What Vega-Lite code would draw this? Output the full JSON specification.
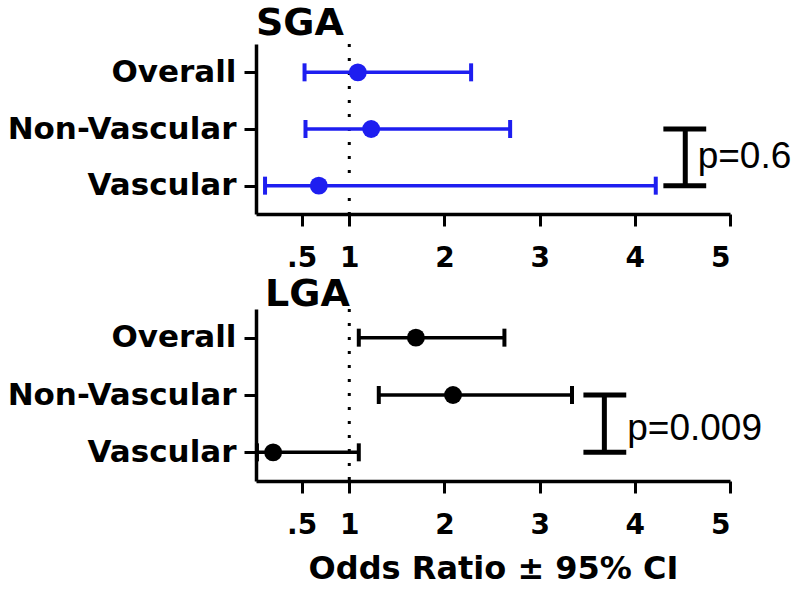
{
  "$schema": "https://vega.github.io/schema/vega-lite/v6.json",
  "padding": {"left": 7, "top": 4, "right": 0, "bottom": 0},
  "background": "white",
  "datasets": {
    "or": [
      {"panel": "SGA", "group": "Overall", "or": 1.09, "lo": 0.53, "hi": 2.28},
      {"panel": "SGA", "group": "Non-Vascular", "or": 1.23, "lo": 0.54, "hi": 2.69},
      {"panel": "SGA", "group": "Vascular", "or": 0.68, "lo": 0.115, "hi": 4.22},
      {"panel": "LGA", "group": "Overall", "or": 1.70, "lo": 1.10, "hi": 2.63},
      {"panel": "LGA", "group": "Non-Vascular", "or": 2.09, "lo": 1.31, "hi": 3.34},
      {"panel": "LGA", "group": "Vascular", "or": 0.20, "lo": 0.03, "hi": 1.10}
    ],
    "brackets": [
      {"panel": "SGA", "from": "Non-Vascular", "to": "Vascular", "xc": 4.53, "tx": 4.66, "p": "p=0.6"},
      {"panel": "LGA", "from": "Non-Vascular", "to": "Vascular", "xc": 3.68, "tx": 3.92, "p": "p=0.009"}
    ],
    "caps": [
      {"panel": "SGA", "row": "Non-Vascular", "xl": 4.30, "xr": 4.75},
      {"panel": "SGA", "row": "Vascular", "xl": 4.30, "xr": 4.75},
      {"panel": "LGA", "row": "Non-Vascular", "xl": 3.46, "xr": 3.91},
      {"panel": "LGA", "row": "Vascular", "xl": 3.46, "xr": 3.91}
    ],
    "ref": [{"x": 1}]
  },
  "config": {
    "view": {"stroke": null},
    "axis": {
      "domainColor": "black", "domainWidth": 3.5, "tickColor": "black", "tickWidth": 3, "tickSize": 12,
      "labelColor": "black", "labelFont": "DejaVu Sans", "labelFontWeight": "bold", "grid": false, "labelLimit": 0,
      "titleFont": "DejaVu Sans", "titleFontWeight": "bold", "titleColor": "black"
    },
    "title": {"font": "DejaVu Sans", "fontWeight": "bold", "color": "black", "anchor": "start", "frame": "group"}
  },
  "bounds": "flush",
  "spacing": 95,
  "vconcat": [
    {
      "title": {"text": "SGA", "fontSize": 38, "offset": 0},
      "width": 474, "height": 170,
      "layer": [
        {
          "data": {"name": "ref"},
          "mark": {"type": "rule", "strokeDash": [3, 11], "strokeWidth": 3, "color": "black"},
          "encoding": {"x": {"field": "x", "type": "quantitative", "scale": {"domain": [0.02, 5], "nice": false, "zero": false},
            "axis": {"values": [0.5, 1, 2, 3, 4, 5], "labelExpr": "datum.value == 0.5 ? '.5' : format(datum.value, 'd')", "labelFontSize": 28, "labelPadding": 18, "title": null}}}
        },
        {
          "data": {"name": "or"},
          "transform": [{"filter": "datum.panel == 'SGA'"}],
          "layer": [
            {"mark": {"type": "rule", "strokeWidth": 3.5, "color": "#1e1ef0"},
             "encoding": {"x": {"field": "lo", "type": "quantitative"}, "x2": {"field": "hi"},
               "y": {"field": "group", "type": "nominal", "scale": {"type": "point", "padding": 0.5, "domain": ["Overall", "Non-Vascular", "Vascular"]},
                 "axis": {"title": null, "labelFontSize": 31, "labelPadding": 8}}}},
            {"mark": {"type": "tick", "thickness": 4, "size": 18, "color": "#1e1ef0", "opacity": 1, "orient": "vertical"},
             "encoding": {"x": {"field": "lo", "type": "quantitative"}, "y": {"field": "group", "type": "nominal"}}},
            {"mark": {"type": "tick", "thickness": 4, "size": 18, "color": "#1e1ef0", "opacity": 1, "orient": "vertical"},
             "encoding": {"x": {"field": "hi", "type": "quantitative"}, "y": {"field": "group", "type": "nominal"}}},
            {"mark": {"type": "circle", "size": 320, "opacity": 1, "color": "#1e1ef0"},
             "encoding": {"x": {"field": "or", "type": "quantitative"}, "y": {"field": "group", "type": "nominal"}}}
          ]
        },
        {
          "data": {"name": "brackets"},
          "transform": [{"filter": "datum.panel == 'SGA'"}],
          "layer": [
            {"mark": {"type": "rule", "strokeWidth": 5, "color": "black"},
             "encoding": {"x": {"field": "xc", "type": "quantitative"}, "y": {"field": "from", "type": "nominal"}, "y2": {"field": "to"}}},
            {"mark": {"type": "text", "font": "Liberation Sans", "fontSize": 37, "align": "left", "baseline": "middle", "dy": 28, "color": "black"},
             "encoding": {"x": {"field": "tx", "type": "quantitative"}, "y": {"field": "from", "type": "nominal"}, "text": {"field": "p"}}}
          ]
        },
        {
          "data": {"name": "caps"},
          "transform": [{"filter": "datum.panel == 'SGA'"}],
          "mark": {"type": "rule", "strokeWidth": 5, "color": "black"},
          "encoding": {"x": {"field": "xl", "type": "quantitative"}, "x2": {"field": "xr"}, "y": {"field": "row", "type": "nominal"}}
        }
      ]
    },
    {
      "title": {"text": "LGA", "fontSize": 38, "offset": -6, "dx": 9},
      "width": 474, "height": 172,
      "layer": [
        {
          "data": {"name": "ref"},
          "mark": {"type": "rule", "strokeDash": [3, 11], "strokeWidth": 3, "color": "black"},
          "encoding": {"x": {"field": "x", "type": "quantitative", "scale": {"domain": [0.02, 5], "nice": false, "zero": false},
            "axis": {"values": [0.5, 1, 2, 3, 4, 5], "labelExpr": "datum.value == 0.5 ? '.5' : format(datum.value, 'd')", "labelFontSize": 28, "labelPadding": 18,
              "title": "Odds Ratio ± 95% CI", "titleFontSize": 32, "titlePadding": 14}}}
        },
        {
          "data": {"name": "or"},
          "transform": [{"filter": "datum.panel == 'LGA'"}],
          "layer": [
            {"mark": {"type": "rule", "strokeWidth": 3.5, "color": "black"},
             "encoding": {"x": {"field": "lo", "type": "quantitative"}, "x2": {"field": "hi"},
               "y": {"field": "group", "type": "nominal", "scale": {"type": "point", "padding": 0.5, "domain": ["Overall", "Non-Vascular", "Vascular"]},
                 "axis": {"title": null, "labelFontSize": 31, "labelPadding": 8}}}},
            {"mark": {"type": "tick", "thickness": 4, "size": 18, "color": "black", "opacity": 1, "orient": "vertical"},
             "encoding": {"x": {"field": "lo", "type": "quantitative"}, "y": {"field": "group", "type": "nominal"}}},
            {"mark": {"type": "tick", "thickness": 4, "size": 18, "color": "black", "opacity": 1, "orient": "vertical"},
             "encoding": {"x": {"field": "hi", "type": "quantitative"}, "y": {"field": "group", "type": "nominal"}}},
            {"mark": {"type": "circle", "size": 320, "opacity": 1, "color": "black"},
             "encoding": {"x": {"field": "or", "type": "quantitative"}, "y": {"field": "group", "type": "nominal"}}}
          ]
        },
        {
          "data": {"name": "brackets"},
          "transform": [{"filter": "datum.panel == 'LGA'"}],
          "layer": [
            {"mark": {"type": "rule", "strokeWidth": 5, "color": "black"},
             "encoding": {"x": {"field": "xc", "type": "quantitative"}, "y": {"field": "from", "type": "nominal"}, "y2": {"field": "to"}}},
            {"mark": {"type": "text", "font": "Liberation Sans", "fontSize": 37, "align": "left", "baseline": "middle", "dy": 34, "color": "black"},
             "encoding": {"x": {"field": "tx", "type": "quantitative"}, "y": {"field": "from", "type": "nominal"}, "text": {"field": "p"}}}
          ]
        },
        {
          "data": {"name": "caps"},
          "transform": [{"filter": "datum.panel == 'LGA'"}],
          "mark": {"type": "rule", "strokeWidth": 5, "color": "black"},
          "encoding": {"x": {"field": "xl", "type": "quantitative"}, "x2": {"field": "xr"}, "y": {"field": "row", "type": "nominal"}}
        }
      ]
    }
  ]
}
